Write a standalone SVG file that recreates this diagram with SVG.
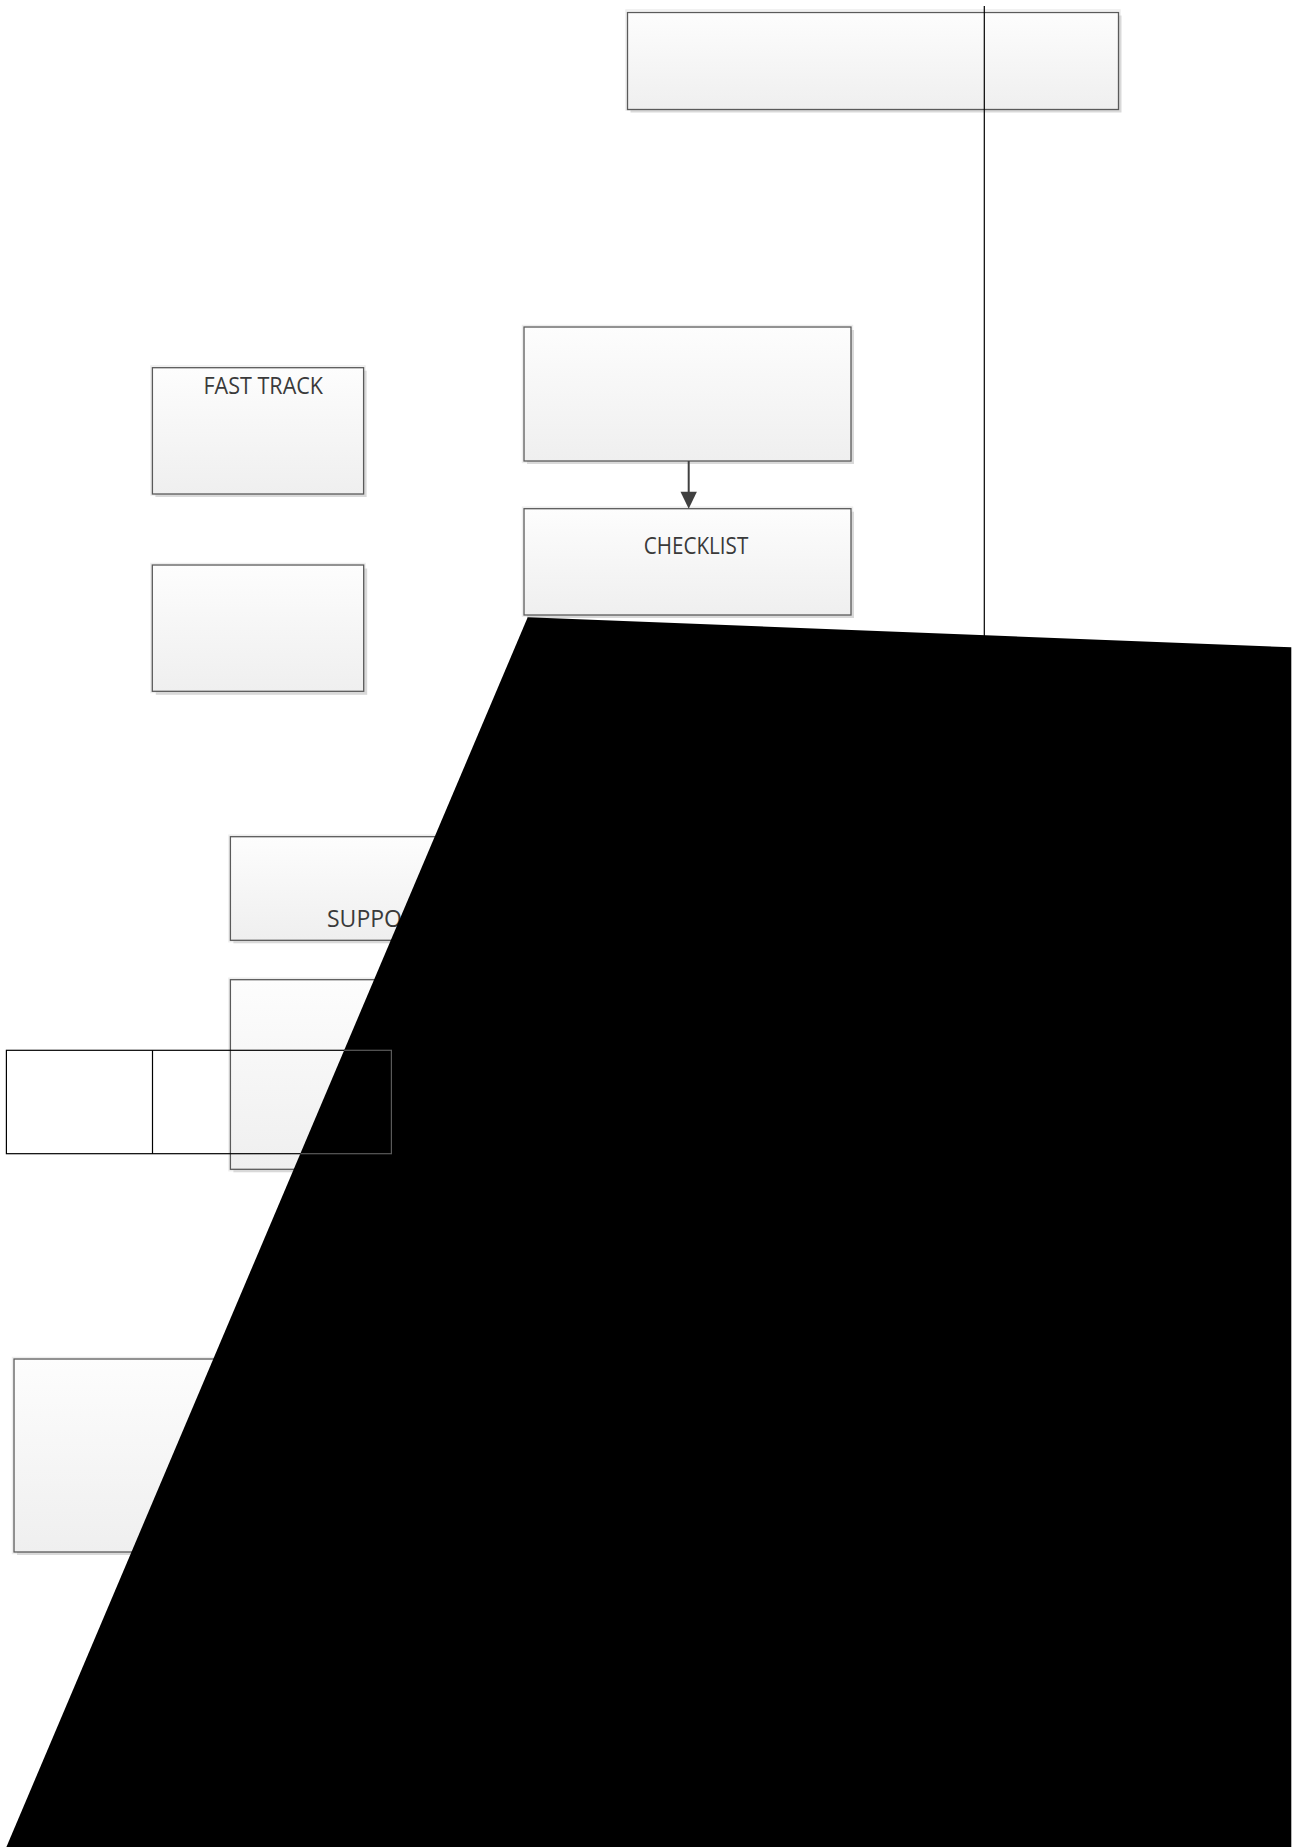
<svg xmlns="http://www.w3.org/2000/svg" width="1297" height="1847" viewBox="0 0 1297 1847">
  <defs>
    <linearGradient id="boxfill" x1="0" y1="0" x2="0" y2="1">
      <stop offset="0" stop-color="#fdfdfd"/>
      <stop offset="1" stop-color="#efefef"/>
    </linearGradient>
    <clipPath id="blackclip">
      <polygon points="527.7,617.3 1291.3,647.3 1291.3,1847 6.4,1847"/>
    </clipPath>
    <style>
      .shadow { fill: #d9d9d9; }
      .halo { fill: none; stroke: #ededed; stroke-width: 1.5; }
      .box { fill: url(#boxfill); stroke: #5a5a5a; stroke-width: 1.3; }
      .label { font-family: "Open Sans", "Liberation Sans", sans-serif; font-size: 23px; fill: #3a3a3a; }
      .conn { stroke: #404040; stroke-width: 2; fill: none; }
      .thin { stroke: #000; stroke-width: 1.2; fill: none; }
      .thin-on-black { stroke: #5a5a5a; stroke-width: 1.2; fill: none; }
    </style>
  </defs>
  <rect x="0" y="0" width="1297" height="1847" fill="#ffffff"/>

  <g id="node-top">
    <rect class="halo" x="626" y="10" width="494" height="100"/>
    <rect class="shadow" x="630.5" y="15.5" width="491" height="97"/>
    <rect class="box" x="627.5" y="12.5" width="491" height="97"/>
  </g>

  <g id="node-fasttrack">
    <rect class="halo" x="151" y="366" width="214" height="129"/>
    <rect class="shadow" x="155.4" y="370.7" width="211.2" height="126.3"/>
    <rect class="box" x="152.4" y="367.7" width="211.2" height="126.3"/>
    <text class="label" x="203.5" y="394" textLength="119.5" lengthAdjust="spacingAndGlyphs">FAST TRACK</text>
  </g>

  <g id="node-blank-left">
    <rect class="halo" x="151" y="563.5" width="214" height="129"/>
    <rect class="shadow" x="155.8" y="568.5" width="211.4" height="126.3"/>
    <rect class="box" x="152.3" y="565" width="211.4" height="126.3"/>
  </g>

  <g id="node-upper-mid">
    <rect class="halo" x="522.5" y="325.5" width="330" height="137"/>
    <rect class="shadow" x="527" y="330" width="327" height="134"/>
    <rect class="box" x="524" y="327" width="327" height="134"/>
  </g>

  <g id="node-checklist">
    <rect class="halo" x="522.5" y="507.2" width="330" height="109"/>
    <rect class="shadow" x="527" y="511.7" width="327" height="106.3"/>
    <rect class="box" x="524" y="508.7" width="327" height="106.3"/>
    <text class="label" x="643.7" y="554.3" textLength="104.6" lengthAdjust="spacingAndGlyphs">CHECKLIST</text>
  </g>

  <g id="node-support">
    <rect class="halo" x="229" y="835.2" width="293" height="106.5"/>
    <rect class="shadow" x="233.4" y="839.7" width="290" height="103.6"/>
    <rect class="box" x="230.4" y="836.7" width="290" height="103.6"/>
    <text class="label" x="327" y="926.7">SUPPORT</text>
  </g>

  <g id="node-lower-mid">
    <rect class="halo" x="229" y="978.2" width="293" height="192.5"/>
    <rect class="shadow" x="233.4" y="982.7" width="290" height="189.6"/>
    <rect class="box" x="230.4" y="979.7" width="290" height="189.6"/>
  </g>

  <g id="node-bottom-left">
    <rect class="halo" x="12.5" y="1357.5" width="253" height="196"/>
    <rect class="shadow" x="17" y="1362" width="250" height="193"/>
    <rect class="box" x="14" y="1359" width="250" height="193"/>
  </g>

  <g id="connectors">
    <line class="conn" x1="688.7" y1="461" x2="688.7" y2="494"/>
    <polygon points="680.5,491.7 696.9,491.7 688.7,508.7" fill="#404040"/>
    <line class="thin" x1="984.3" y1="6" x2="984.3" y2="640"/>
  </g>

  <g id="black-shape">
    <polygon points="527.7,617.3 1291.3,647.3 1291.3,1847 6.4,1847" fill="#000000"/>
  </g>

  <g id="node-table">
    <rect class="thin" x="6.4" y="1050.3" width="385" height="103.4"/>
    <line class="thin" x1="152.5" y1="1050.3" x2="152.5" y2="1153.7"/>
    <g clip-path="url(#blackclip)">
      <rect class="thin-on-black" x="6.4" y="1050.3" width="385" height="103.4"/>
    </g>
  </g>
</svg>
